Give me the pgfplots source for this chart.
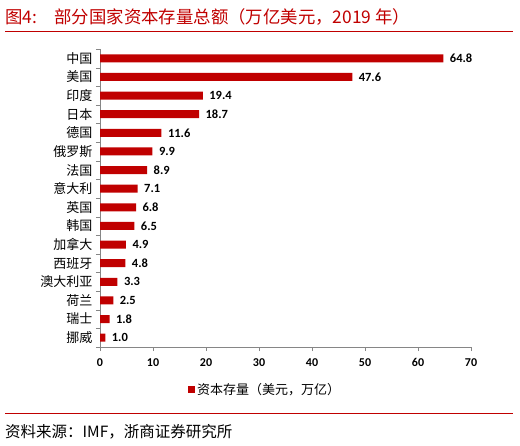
\documentclass[border=0pt]{standalone}
\usepackage{pgfplots}
\pgfplotsset{compat=1.18}
\usepackage{fontspec}
\setmainfont{Noto Sans CJK SC}
\newfontfamily\num{Carlito}
\definecolor{barred}{RGB}{192,0,0}
\definecolor{axgray}{RGB}{134,134,134}
\begin{document}
\begin{tikzpicture}
\path[use as bounding box] (0pt,0pt) rectangle (520pt,445pt);
\node[anchor=base west, text=barred, font=\fontsize{17.4}{17}\selectfont, inner sep=0] at (5pt,421pt) {图4:\hspace{1.0em}部分国家资本存量总额（万亿美元，2019 年）};
\draw[barred, line width=1pt] (5pt,413pt) -- (513pt,413pt);
\draw[barred, line width=1pt] (5pt,31pt) -- (513pt,31pt);
\node[anchor=base west, font=\fontsize{15.5}{15}\selectfont, inner sep=0] at (5pt,8pt) {资料来源：IMF，浙商证券研究所};
\begin{axis}[at={(100pt,98pt)}, anchor=south west, scale only axis,
  width=371pt, height=298pt,
  xbar, bar width=8pt,
  xmin=0, xmax=70, ymin=-0.5, ymax=15.5, y dir=reverse,
  axis lines*=left,
  axis line style={-, draw=axgray},
  tick align=outside,
  major tick length=4pt, minor tick length=4pt,
  xtick={0,10,...,70},
  ytick={0,...,15},
  yticklabels={中国,美国,印度,日本,德国,俄罗斯,法国,意大利,英国,韩国,加拿大,西班牙,澳大利亚,荷兰,瑞士,挪威},
  minor ytick={-0.5,0.5,...,15.5},
  ytick style={draw=none},
  minor y tick style={draw=axgray},
  xtick style={draw=axgray},
  /pgf/number format/assume math mode=true,
  xticklabel style={font=\num\bfseries\fontsize{12}{12}\selectfont, yshift=-4pt},
  yticklabel style={font=\fontsize{13}{13}\selectfont},
  nodes near coords={\pgfmathprintnumber[fixed,fixed zerofill,precision=1]{\pgfplotspointmeta}},
  nodes near coords style={font=\num\bfseries\fontsize{12.5}{12}\selectfont, text=black, xshift=3pt},
  legend style={at={(0.445,-0.144)}, anchor=center, draw=none, fill=none,
    font=\fontsize{13}{13}\selectfont, inner sep=0pt},
]
\addplot[fill=barred, draw=none,
  legend image code/.code={\fill[barred] (0pt,-3.5pt) rectangle (7pt,3.5pt);}]
  coordinates {(64.8,0) (47.6,1) (19.4,2) (18.7,3) (11.6,4) (9.9,5) (8.9,6) (7.1,7)
  (6.8,8) (6.5,9) (4.9,10) (4.8,11) (3.3,12) (2.5,13) (1.8,14) (1.0,15)};
\addlegendentry{资本存量（美元，万亿）}
\end{axis}
\end{tikzpicture}
\end{document}
